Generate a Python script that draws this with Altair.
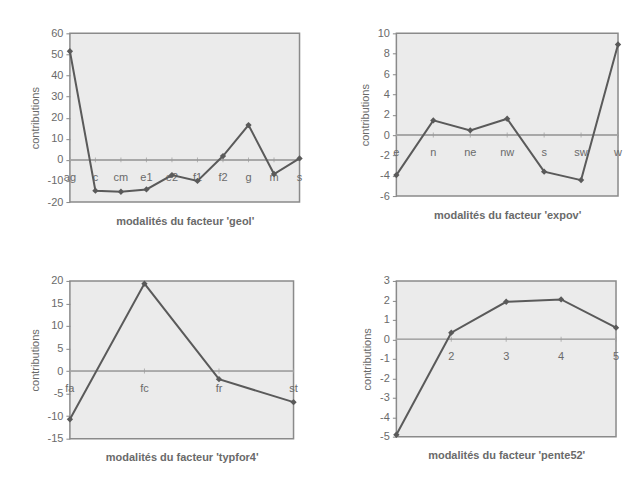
import altair as alt
import pandas as pd

# ---- data ----
geol_cats = ["ag", "c", "cm", "e1", "e2", "f1", "f2", "g", "m", "s"]
geol_vals = [51.5, -14.6, -15.1, -14.0, -7.2, -10.0, 1.8, 16.5, -6.7, 0.7]
geol_labels = ["ag", "c", "cm", "e1", "e2", "f1", "f2", "g", "m", "s"]
geol_ticks = [-20, -10, 0, 10, 20, 30, 40, 50, 60]

expov_cats = ["e", "n", "ne", "nw", "s", "sw", "w"]
expov_vals = [-3.94, 1.44, 0.46, 1.6, -3.6, -4.43, 8.9]
expov_labels = ["e", "n", "ne", "nw", "s", "sw", "w"]
expov_ticks = [-6, -4, -2, 0, 2, 4, 6, 8, 10]

typfor_cats = ["fa", "fc", "fr", "st"]
typfor_vals = [-10.7, 19.4, -1.8, -6.9]
typfor_labels = ["fa", "fc", "fr", "st"]
typfor_ticks = [-15, -10, -5, 0, 5, 10, 15, 20]

pente_cats = ["1", "2", "3", "4", "5"]
pente_vals = [-4.9, 0.34, 1.93, 2.05, 0.6]
pente_labels = ["", "2", "3", "4", "5"]
pente_ticks = [-5, -4, -3, -2, -1, 0, 1, 2, 3]

FONT = "Liberation Sans"
TXT = "#6a6a6a"
LINE = "#5a5a5a"


def panel(cats, vals, labels, ticks, title, w, h):
    df = pd.DataFrame({"cat": cats, "val": vals, "lab": labels})
    x = alt.X("cat:O", sort=cats,
              scale=alt.Scale(type="point", padding=0),
              axis=alt.Axis(labels=False, ticks=False, domain=False,
                            title=title, titlePadding=13,
                            titleFontSize=11, titleFontWeight="bold",
                            titleColor=TXT, titleFont=FONT))
    yscale = alt.Scale(domain=[ticks[0], ticks[-1]], nice=False, zero=False)
    yaxis = alt.Axis(values=ticks, grid=False, domain=False,
                     labelOverlap=False, format="d",
                     labelExpr="replace(datum.label, '−', '-')",
                     tickSize=4, tickColor="#888", labelPadding=3,
                     labelFontSize=11, labelColor=TXT, labelFont=FONT,
                     title="contributions", titleFontSize=11,
                     titleFontWeight="normal", titleColor=TXT,
                     titleFont=FONT, titlePadding=7)
    y = alt.Y("val:Q", scale=yscale, axis=yaxis)
    y0 = alt.YDatum(0, scale=yscale, axis=yaxis)
    base = alt.Chart(df)
    zero = base.mark_rule(color="#a8a8a8", strokeWidth=1).encode(y=y0)
    zticks = base.mark_tick(orient="vertical", size=5, thickness=1,
                            color="#9a9a9a").encode(x=x, y=y0)
    lbl = base.mark_text(dy=18, fontSize=11, color=TXT, font=FONT).encode(
        x=x, y=y0, text="lab:N")
    line = base.mark_line(color=LINE, strokeWidth=2).encode(x=x, y=y)
    pts = base.mark_point(shape="diamond", filled=True, size=40,
                          color=LINE, opacity=1).encode(x=x, y=y)
    return alt.layer(zero, zticks, lbl, line, pts).properties(width=w, height=h)


p1 = panel(geol_cats, geol_vals, geol_labels, geol_ticks,
           "modalités du facteur 'geol'", 230, 169)
p2 = panel(expov_cats, expov_vals, expov_labels, expov_ticks,
           "modalités du facteur 'expov'", 222, 163)
p3 = panel(typfor_cats, typfor_vals, typfor_labels, typfor_ticks,
           "modalités du facteur 'typfor4'", 224, 158)
p4 = panel(pente_cats, pente_vals, pente_labels, pente_ticks,
           "modalités du facteur 'pente52'", 220, 156)

chart = alt.ConcatChart(
    concat=[p1, p2, p3, p4], columns=2, bounds="flush",
    spacing={"row": 79, "column": 97},
).properties(
    padding={"left": 20, "top": 18, "right": 5, "bottom": 5},
    background="white",
).configure_view(fill="#ebebeb", stroke="#8a8a8a", strokeWidth=1.5)

chart.save("out.html", embed_options={"renderer": "svg", "actions": False})
